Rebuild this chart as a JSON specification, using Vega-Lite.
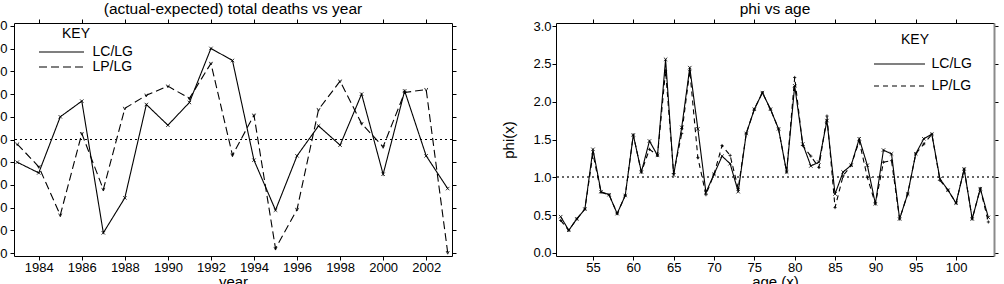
{
  "$schema": "https://vega.github.io/schema/vega-lite/v6.json",
  "padding": {"left": -23, "top": 2, "right": 0, "bottom": 0},
  "background": "white",
  "config": {
    "font": "Liberation Sans",
    "view": {"stroke": null},
    "axis": {"grid": false, "domainColor": "black", "tickColor": "black", "labelColor": "black", "titleColor": "black", "labelFontSize": 13, "titleFontSize": 15, "titleFontWeight": "normal", "tickSize": 4, "labelPadding": 1, "labelFont": "Liberation Sans", "titleFont": "Liberation Sans"},
    "title": {"fontSize": 15.5, "fontWeight": "normal", "font": "Liberation Sans", "color": "black", "offset": 1},
    "legend": {"labelFontSize": 14, "titleFontSize": 14, "titleFontWeight": "normal", "labelFont": "Liberation Sans", "titleFont": "Liberation Sans", "labelColor": "black", "titleColor": "black"}
  },
  "datasets": {
    "deaths": [
      {"year": 1983, "series": "LC/LG", "value": -100},
      {"year": 1984, "series": "LC/LG", "value": -147},
      {"year": 1985, "series": "LC/LG", "value": 100},
      {"year": 1986, "series": "LC/LG", "value": 169},
      {"year": 1987, "series": "LC/LG", "value": -411},
      {"year": 1988, "series": "LC/LG", "value": -257},
      {"year": 1989, "series": "LC/LG", "value": 154},
      {"year": 1990, "series": "LC/LG", "value": 63},
      {"year": 1991, "series": "LC/LG", "value": 163},
      {"year": 1992, "series": "LC/LG", "value": 401},
      {"year": 1993, "series": "LC/LG", "value": 348},
      {"year": 1994, "series": "LC/LG", "value": -91},
      {"year": 1995, "series": "LC/LG", "value": -311},
      {"year": 1996, "series": "LC/LG", "value": -72},
      {"year": 1997, "series": "LC/LG", "value": 60},
      {"year": 1998, "series": "LC/LG", "value": -25},
      {"year": 1999, "series": "LC/LG", "value": 200},
      {"year": 2000, "series": "LC/LG", "value": -153},
      {"year": 2001, "series": "LC/LG", "value": 214},
      {"year": 2002, "series": "LC/LG", "value": -72},
      {"year": 2003, "series": "LC/LG", "value": -216},
      {"year": 1983, "series": "LP/LG", "value": -20},
      {"year": 1984, "series": "LP/LG", "value": -120},
      {"year": 1985, "series": "LP/LG", "value": -333},
      {"year": 1986, "series": "LP/LG", "value": 26},
      {"year": 1987, "series": "LP/LG", "value": -220},
      {"year": 1988, "series": "LP/LG", "value": 137},
      {"year": 1989, "series": "LP/LG", "value": 195},
      {"year": 1990, "series": "LP/LG", "value": 235},
      {"year": 1991, "series": "LP/LG", "value": 181},
      {"year": 1992, "series": "LP/LG", "value": 335},
      {"year": 1993, "series": "LP/LG", "value": -69},
      {"year": 1994, "series": "LP/LG", "value": 107},
      {"year": 1995, "series": "LP/LG", "value": -480},
      {"year": 1996, "series": "LP/LG", "value": -308},
      {"year": 1997, "series": "LP/LG", "value": 132},
      {"year": 1998, "series": "LP/LG", "value": 257},
      {"year": 1999, "series": "LP/LG", "value": 70},
      {"year": 2000, "series": "LP/LG", "value": -32},
      {"year": 2001, "series": "LP/LG", "value": 207},
      {"year": 2002, "series": "LP/LG", "value": 220},
      {"year": 2003, "series": "LP/LG", "value": -498}
    ],
    "phi": [
      {"age": 51, "series": "LC/LG", "value": 0.48},
      {"age": 52, "series": "LC/LG", "value": 0.30},
      {"age": 53, "series": "LC/LG", "value": 0.45},
      {"age": 54, "series": "LC/LG", "value": 0.58},
      {"age": 55, "series": "LC/LG", "value": 1.37},
      {"age": 56, "series": "LC/LG", "value": 0.81},
      {"age": 57, "series": "LC/LG", "value": 0.77},
      {"age": 58, "series": "LC/LG", "value": 0.52},
      {"age": 59, "series": "LC/LG", "value": 0.76},
      {"age": 60, "series": "LC/LG", "value": 1.56},
      {"age": 61, "series": "LC/LG", "value": 1.07},
      {"age": 62, "series": "LC/LG", "value": 1.48},
      {"age": 63, "series": "LC/LG", "value": 1.29},
      {"age": 64, "series": "LC/LG", "value": 2.56},
      {"age": 65, "series": "LC/LG", "value": 1.03},
      {"age": 66, "series": "LC/LG", "value": 1.66},
      {"age": 67, "series": "LC/LG", "value": 2.45},
      {"age": 68, "series": "LC/LG", "value": 1.64},
      {"age": 69, "series": "LC/LG", "value": 0.80},
      {"age": 70, "series": "LC/LG", "value": 1.04},
      {"age": 71, "series": "LC/LG", "value": 1.28},
      {"age": 72, "series": "LC/LG", "value": 1.18},
      {"age": 73, "series": "LC/LG", "value": 0.81},
      {"age": 74, "series": "LC/LG", "value": 1.58},
      {"age": 75, "series": "LC/LG", "value": 1.90},
      {"age": 76, "series": "LC/LG", "value": 2.12},
      {"age": 77, "series": "LC/LG", "value": 1.90},
      {"age": 78, "series": "LC/LG", "value": 1.64},
      {"age": 79, "series": "LC/LG", "value": 1.07},
      {"age": 80, "series": "LC/LG", "value": 2.21},
      {"age": 81, "series": "LC/LG", "value": 1.44},
      {"age": 82, "series": "LC/LG", "value": 1.15},
      {"age": 83, "series": "LC/LG", "value": 1.20},
      {"age": 84, "series": "LC/LG", "value": 1.75},
      {"age": 85, "series": "LC/LG", "value": 0.78},
      {"age": 86, "series": "LC/LG", "value": 1.07},
      {"age": 87, "series": "LC/LG", "value": 1.16},
      {"age": 88, "series": "LC/LG", "value": 1.51},
      {"age": 89, "series": "LC/LG", "value": 1.16},
      {"age": 90, "series": "LC/LG", "value": 0.65},
      {"age": 91, "series": "LC/LG", "value": 1.36},
      {"age": 92, "series": "LC/LG", "value": 1.31},
      {"age": 93, "series": "LC/LG", "value": 0.45},
      {"age": 94, "series": "LC/LG", "value": 0.78},
      {"age": 95, "series": "LC/LG", "value": 1.31},
      {"age": 96, "series": "LC/LG", "value": 1.51},
      {"age": 97, "series": "LC/LG", "value": 1.57},
      {"age": 98, "series": "LC/LG", "value": 0.98},
      {"age": 99, "series": "LC/LG", "value": 0.83},
      {"age": 100, "series": "LC/LG", "value": 0.66},
      {"age": 101, "series": "LC/LG", "value": 1.11},
      {"age": 102, "series": "LC/LG", "value": 0.45},
      {"age": 103, "series": "LC/LG", "value": 0.85},
      {"age": 104, "series": "LC/LG", "value": 0.47},
      {"age": 51, "series": "LP/LG", "value": 0.43},
      {"age": 52, "series": "LP/LG", "value": 0.30},
      {"age": 53, "series": "LP/LG", "value": 0.45},
      {"age": 54, "series": "LP/LG", "value": 0.58},
      {"age": 55, "series": "LP/LG", "value": 1.31},
      {"age": 56, "series": "LP/LG", "value": 0.80},
      {"age": 57, "series": "LP/LG", "value": 0.77},
      {"age": 58, "series": "LP/LG", "value": 0.52},
      {"age": 59, "series": "LP/LG", "value": 0.76},
      {"age": 60, "series": "LP/LG", "value": 1.56},
      {"age": 61, "series": "LP/LG", "value": 1.07},
      {"age": 62, "series": "LP/LG", "value": 1.37},
      {"age": 63, "series": "LP/LG", "value": 1.29},
      {"age": 64, "series": "LP/LG", "value": 2.41},
      {"age": 65, "series": "LP/LG", "value": 1.05},
      {"age": 66, "series": "LP/LG", "value": 1.58},
      {"age": 67, "series": "LP/LG", "value": 2.41},
      {"age": 68, "series": "LP/LG", "value": 1.26},
      {"age": 69, "series": "LP/LG", "value": 0.77},
      {"age": 70, "series": "LP/LG", "value": 1.04},
      {"age": 71, "series": "LP/LG", "value": 1.42},
      {"age": 72, "series": "LP/LG", "value": 1.29},
      {"age": 73, "series": "LP/LG", "value": 0.85},
      {"age": 74, "series": "LP/LG", "value": 1.58},
      {"age": 75, "series": "LP/LG", "value": 1.90},
      {"age": 76, "series": "LP/LG", "value": 2.12},
      {"age": 77, "series": "LP/LG", "value": 1.90},
      {"age": 78, "series": "LP/LG", "value": 1.64},
      {"age": 79, "series": "LP/LG", "value": 1.07},
      {"age": 80, "series": "LP/LG", "value": 2.32},
      {"age": 81, "series": "LP/LG", "value": 1.42},
      {"age": 82, "series": "LP/LG", "value": 1.28},
      {"age": 83, "series": "LP/LG", "value": 1.13},
      {"age": 84, "series": "LP/LG", "value": 1.81},
      {"age": 85, "series": "LP/LG", "value": 0.60},
      {"age": 86, "series": "LP/LG", "value": 1.02},
      {"age": 87, "series": "LP/LG", "value": 1.16},
      {"age": 88, "series": "LP/LG", "value": 1.48},
      {"age": 89, "series": "LP/LG", "value": 1.00},
      {"age": 90, "series": "LP/LG", "value": 0.65},
      {"age": 91, "series": "LP/LG", "value": 1.20},
      {"age": 92, "series": "LP/LG", "value": 1.22},
      {"age": 93, "series": "LP/LG", "value": 0.45},
      {"age": 94, "series": "LP/LG", "value": 0.78},
      {"age": 95, "series": "LP/LG", "value": 1.31},
      {"age": 96, "series": "LP/LG", "value": 1.44},
      {"age": 97, "series": "LP/LG", "value": 1.57},
      {"age": 98, "series": "LP/LG", "value": 0.96},
      {"age": 99, "series": "LP/LG", "value": 0.83},
      {"age": 100, "series": "LP/LG", "value": 0.66},
      {"age": 101, "series": "LP/LG", "value": 1.11},
      {"age": 102, "series": "LP/LG", "value": 0.45},
      {"age": 103, "series": "LP/LG", "value": 0.85},
      {"age": 104, "series": "LP/LG", "value": 0.41}
    ]
  },
  "resolve": {"scale": {"strokeDash": "independent"}, "legend": {"strokeDash": "independent"}},
  "spacing": 44,
  "hconcat": [
    {
      "width": 438,
      "height": 233,
      "title": {"text": "(actual-expected) total deaths vs year"},
      "data": {"name": "deaths"},
      "resolve": {"axis": {"x": "independent", "y": "independent"}},
      "layer": [
        {
          "mark": {"type": "rule", "strokeDash": [2, 3], "color": "black", "strokeWidth": 1},
          "encoding": {
            "y": {"datum": 0, "type": "quantitative", "scale": {"domain": [-513, 513], "nice": false, "zero": false}, "axis": null}
          }
        },
        {
          "mark": {"type": "line", "color": "black", "strokeWidth": 1.1},
          "encoding": {
            "x": {"field": "year", "type": "quantitative", "scale": {"domain": [1982.85, 2003.2], "nice": false, "zero": false},
                  "axis": {"orient": "bottom", "values": [1984, 1986, 1988, 1990, 1992, 1994, 1996, 1998, 2000, 2002], "format": "d", "title": "year", "titlePadding": 0}},
            "y": {"field": "value", "type": "quantitative", "scale": {"domain": [-513, 513], "nice": false, "zero": false},
                  "axis": {"orient": "left", "values": [-500, -400, -300, -200, -100, 0, 100, 200, 300, 400, 500], "title": null, "labelPadding": 3}},
            "strokeDash": {"field": "series", "type": "nominal",
                  "scale": {"domain": ["LC/LG", "LP/LG"], "range": [[1, 0], [8, 4]]},
                  "legend": {"orient": "none", "legendX": 48, "legendY": 4, "title": "KEY", "titleAnchor": "start", "titleAlign": "left", "symbolType": "M-10,0L10,0", "symbolSize": 20.25, "symbolOffset": -7.5, "symbolStrokeColor": "black", "symbolStrokeWidth": 1.1, "labelOffset": 24, "rowPadding": 1, "titlePadding": 4}}
          }
        },
        {
          "transform": [{"filter": "datum.series === 'LC/LG'"}],
          "mark": {"type": "point", "shape": "M-1,-1L1,1M-1,1L1,-1", "filled": false, "color": "black", "strokeWidth": 0.8, "size": 12, "opacity": 1},
          "encoding": {
            "x": {"field": "year", "type": "quantitative", "scale": {"domain": [1982.85, 2003.2], "nice": false, "zero": false},
                  "axis": {"orient": "top", "values": [1984, 1986, 1988, 1990, 1992, 1994, 1996, 1998, 2000, 2002], "labels": false, "title": null}},
            "y": {"field": "value", "type": "quantitative", "scale": {"domain": [-513, 513], "nice": false, "zero": false},
                  "axis": {"orient": "right", "values": [-500, -400, -300, -200, -100, 0, 100, 200, 300, 400, 500], "labels": false, "title": null}}
          }
        },
        {
          "transform": [{"filter": "datum.series === 'LP/LG'"}],
          "mark": {"type": "point", "shape": "M-1,-1L0,1L1,-1", "filled": false, "color": "black", "strokeWidth": 0.8, "size": 10, "opacity": 1},
          "encoding": {
            "x": {"field": "year", "type": "quantitative", "scale": {"domain": [1982.85, 2003.2], "nice": false, "zero": false}, "axis": null},
            "y": {"field": "value", "type": "quantitative", "scale": {"domain": [-513, 513], "nice": false, "zero": false}, "axis": null}
          }
        }
      ]
    },
    {
      "width": 438,
      "height": 233,
      "title": {"text": "phi vs age"},
      "data": {"name": "phi"},
      "resolve": {"axis": {"x": "independent", "y": "independent"}},
      "layer": [
        {
          "mark": {"type": "rule", "strokeDash": [2, 3], "color": "#666666", "strokeWidth": 1},
          "encoding": {
            "y": {"datum": 1, "type": "quantitative", "scale": {"domain": [-0.04, 3.04], "nice": false, "zero": false}, "axis": null}
          }
        },
        {
          "mark": {"type": "line", "color": "black", "strokeWidth": 1.1},
          "encoding": {
            "x": {"field": "age", "type": "quantitative", "scale": {"domain": [50.42, 104.7], "nice": false, "zero": false},
                  "axis": {"orient": "bottom", "values": [55, 60, 65, 70, 75, 80, 85, 90, 95, 100], "format": "d", "title": "age (x)", "titlePadding": 0}},
            "y": {"field": "value", "type": "quantitative", "scale": {"domain": [-0.04, 3.04], "nice": false, "zero": false},
                  "axis": {"orient": "left", "values": [0, 0.5, 1, 1.5, 2, 2.5, 3], "format": ".1f", "title": "phi(x)", "titlePadding": 16}},
            "strokeDash": {"field": "series", "type": "nominal",
                  "scale": {"domain": ["LC/LG", "LP/LG"], "range": [[1, 0], [5, 4]]},
                  "legend": {"orient": "none", "legendX": 345, "legendY": 10, "title": "KEY", "titleAnchor": "start", "titleAlign": "left", "symbolType": "M-10,0L10,0", "symbolSize": 26, "symbolOffset": -8.5, "symbolStrokeColor": "black", "symbolStrokeWidth": 1.1, "labelOffset": 25, "rowPadding": 8, "titlePadding": 10}}
          }
        },
        {
          "transform": [{"filter": "datum.series === 'LC/LG'"}],
          "mark": {"type": "point", "shape": "M-1,-1L1,1M-1,1L1,-1", "filled": false, "color": "black", "strokeWidth": 0.8, "size": 12, "opacity": 1},
          "encoding": {
            "x": {"field": "age", "type": "quantitative", "scale": {"domain": [50.42, 104.7], "nice": false, "zero": false},
                  "axis": {"orient": "top", "values": [55, 60, 65, 70, 75, 80, 85, 90, 95, 100], "labels": false, "title": null}},
            "y": {"field": "value", "type": "quantitative", "scale": {"domain": [-0.04, 3.04], "nice": false, "zero": false},
                  "axis": {"orient": "right", "values": [0, 0.5, 1, 1.5, 2, 2.5, 3], "labels": false, "title": null, "domainColor": "#8a8a8a", "domainWidth": 2}}
          }
        },
        {
          "transform": [{"filter": "datum.series === 'LP/LG'"}],
          "mark": {"type": "point", "shape": "M-1,0L1,0M0,-1L0,1", "filled": false, "color": "black", "strokeWidth": 0.8, "size": 10, "opacity": 1},
          "encoding": {
            "x": {"field": "age", "type": "quantitative", "scale": {"domain": [50.42, 104.7], "nice": false, "zero": false}, "axis": null},
            "y": {"field": "value", "type": "quantitative", "scale": {"domain": [-0.04, 3.04], "nice": false, "zero": false}, "axis": null}
          }
        }
      ]
    }
  ]
}
